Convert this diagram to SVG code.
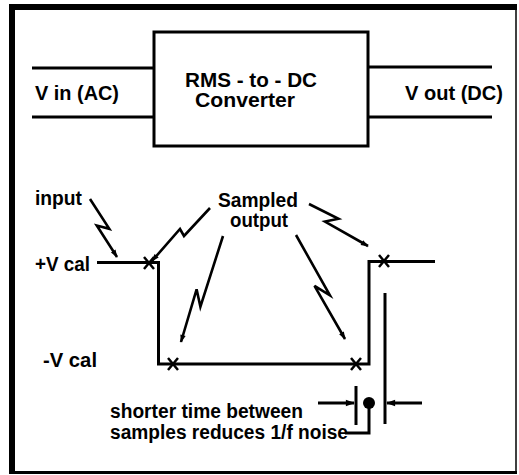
<svg xmlns="http://www.w3.org/2000/svg" width="519" height="475" viewBox="0 0 519 475">
<style>
.t{font-family:"Liberation Sans",Arial,sans-serif;font-weight:bold;font-size:20px;fill:#000}
.ln{stroke:#000;stroke-width:3;fill:none}
.bolt{stroke:#000;stroke-width:2.6;fill:none;stroke-linejoin:miter}
.x{stroke:#000;stroke-width:2.5}
</style>
<defs>
<marker id="ah" viewBox="0 0 10 10" refX="9" refY="5" markerWidth="3.6" markerHeight="3" orient="auto" markerUnits="strokeWidth">
<path d="M0,1.5 L10,5 L0,8.5 Z" fill="#000"/>
</marker>
</defs>
<rect width="519" height="475" fill="#fff"/>
<g id="frame">
<line x1="9" y1="7" x2="517" y2="7" stroke="#000" stroke-width="6"/>
<line x1="12" y1="4" x2="12" y2="474" stroke="#000" stroke-width="6"/>
<line x1="9" y1="472.5" x2="517" y2="472.5" stroke="#000" stroke-width="3"/>
<line x1="516" y1="7" x2="516" y2="472" stroke="#000" stroke-width="1.5"/>
</g>
<g id="converter">
<rect x="154" y="32" width="214" height="114" class="ln"/>
<text class="t" x="185" y="87" textLength="132" lengthAdjust="spacingAndGlyphs">RMS - to - DC</text>
<text class="t" x="195" y="107" textLength="100" lengthAdjust="spacingAndGlyphs">Converter</text>
</g>
<g id="vin">
<text class="t" x="35" y="100" textLength="84" lengthAdjust="spacingAndGlyphs">V in (AC)</text>
</g>
<g id="vout">
<text class="t" x="405" y="100" textLength="98" lengthAdjust="spacingAndGlyphs">V out (DC)</text>
</g>
<g id="labels">
<text class="t" x="35" y="205" textLength="47" lengthAdjust="spacingAndGlyphs">input</text>
<text class="t" x="218" y="207" textLength="80" lengthAdjust="spacingAndGlyphs">Sampled</text>
<text class="t" x="230" y="227" textLength="58" lengthAdjust="spacingAndGlyphs">output</text>
<text class="t" x="35" y="271" textLength="55" lengthAdjust="spacingAndGlyphs">+V cal</text>
<text class="t" x="43" y="367" textLength="54" lengthAdjust="spacingAndGlyphs">-V cal</text>
<text class="t" x="110" y="418" textLength="193" lengthAdjust="spacingAndGlyphs">shorter time between</text>
<text class="t" x="110" y="439" textLength="238" lengthAdjust="spacingAndGlyphs">samples reduces 1/f noise</text>
</g>
<g id="connectors">
<line x1="32" y1="68" x2="154" y2="68" class="ln"/>
<line x1="32" y1="117" x2="154" y2="117" class="ln"/>
<line x1="368" y1="67" x2="492" y2="67" class="ln"/>
<line x1="368" y1="117" x2="492" y2="117" class="ln"/>
<polyline points="97,262.5 158.5,262.5 158.5,364 369,364 369,261.5 435,261.5" class="ln"/>
<line x1="385" y1="293" x2="385" y2="424" class="ln"/>
<line x1="356" y1="386" x2="356" y2="425" class="ln"/>
<line x1="318" y1="403" x2="354" y2="403" class="ln" marker-end="url(#ah)"/>
<line x1="422" y1="403" x2="387" y2="403" class="ln" marker-end="url(#ah)"/>
<circle cx="369" cy="403" r="6" fill="#000"/>
<polyline points="369,403 369,433 345,433" class="ln"/>
<path class="x" d="M144,257 L154,269 M154,257 L144,269"/>
<path class="x" d="M168,358 L178,370 M178,358 L168,370"/>
<path class="x" d="M351,358 L361,370 M361,358 L351,370"/>
<path class="x" d="M379,255 L389,267 M389,255 L379,267"/>
<path class="bolt" d="M90,199 L109.3,228.8 L96.8,225.5 L117,257" marker-end="url(#ah)"/>
<path class="bolt" d="M210,208 L184,236 L180,229 L152,261" marker-end="url(#ah)"/>
<path class="bolt" d="M223,236 L200.4,306.7 L196.6,289.3 L181,342" marker-end="url(#ah)"/>
<path class="bolt" d="M296,235 L329.9,295.3 L314.5,285.9 L345,339" marker-end="url(#ah)"/>
<path class="bolt" d="M309,204 L338.5,218.8 L325,221.6 L368,246" marker-end="url(#ah)"/>
</g>
</svg>
